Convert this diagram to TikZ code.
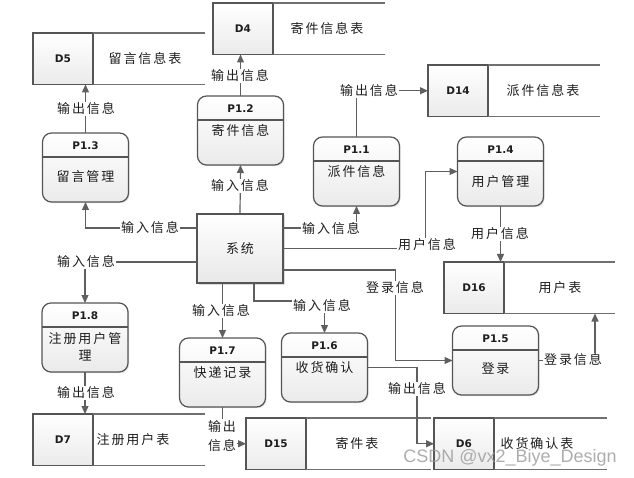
\documentclass[tikz,border=0pt]{standalone}
\usepackage{fontspec}
\usetikzlibrary{arrows.meta,shadows,calc}
\newfontfamily\cjk[LetterSpace=15]{Noto Sans CJK SC}
\newfontfamily\lat{DejaVu Sans}
\newfontfamily\wmfont{Liberation Sans}
\definecolor{ln}{HTML}{5F5F5F}
\definecolor{tx}{HTML}{1E1E1E}
\definecolor{bd}{HTML}{555555}
\definecolor{sl}{HTML}{707070}

\newcommand\pbox[6]{%
  \node[proc] (#1) at (#2,#3) {};
  \draw[pline] ([yshift=-24pt]#1.north west) -- ([yshift=-24pt]#1.north east);
  \node[ptitle] (#1t) at ([yshift=-12.5pt]#1.north) {#4};
  \node[cn] (#1b) at (#2,#5) {#6};
}
\newcommand\dstore[7]{%
  \node[storeid] (#1) at (#2,#3) {#5};
  \draw[sline] (#1.north east) -- (#4,#3);
  \draw[sline] (#1.south east) -- (#4,#3+51.5);
  \node[cn] (#1l) at (#6,#3+25.75) {#7};
}

\begin{document}
\begin{tikzpicture}[x=1pt,y=-1pt,
  flow/.style={draw=ln, line width=1.2pt, -{Triangle[length=8pt,width=7pt]}},
  plain/.style={draw=ln, line width=1.2pt},
  pline/.style={draw=bd, line width=1.1pt},
  sline/.style={draw=sl, line width=1.3pt},
  lbl/.style={fill=white, inner sep=1pt, text=tx, font=\cjk\fontsize{13}{15}\selectfont},
  cn/.style={inner sep=0pt, text=tx, font=\cjk\fontsize{13}{15}\selectfont, align=center},
  ptitle/.style={inner sep=0pt, text=tx, font=\lat\bfseries\fontsize{10.5}{12}\selectfont},
  proc/.style={draw=bd, line width=1.2pt, rounded corners=9pt, minimum width=86pt,
    minimum height=69pt, anchor=north, outer sep=0pt, top color=white, bottom color=black!8,
    drop shadow={shadow xshift=1.2pt, shadow yshift=-1.2pt, opacity=0.22}},
  storeid/.style={draw=bd, line width=1.2pt, minimum width=60pt, minimum height=51.5pt,
    anchor=north west, outer sep=0pt, inner sep=0pt, top color=white, bottom color=black!8,
    text=tx, font=\lat\bfseries\fontsize{10.5}{12}\selectfont},
  sysbox/.style={draw=bd, line width=1.2pt, minimum width=86pt, minimum height=69pt,
    outer sep=0pt, top color=white, bottom color=black!9, text=tx,
    font=\cjk\fontsize{13}{15}\selectfont,
    drop shadow={shadow xshift=1.5pt, shadow yshift=-1.5pt, opacity=0.28}}
]
\useasboundingbox[fill=white] (0,0) rectangle (634,478);

% data stores
\dstore{d5}{33}{33}{205}{D5}{145}{留言信息表}
\dstore{d4}{213}{3}{385}{D4}{327}{寄件信息表}
\dstore{d14}{428}{65}{600}{D14}{543}{派件信息表}
\dstore{d16}{444}{262}{615}{D16}{560}{用户表}
\dstore{d7}{33}{414}{205}{D7}{133}{注册用户表}
\dstore{d15}{246}{418}{431}{D15}{357}{寄件表}
\dstore{d6}{434}{418}{607}{D6}{537}{收货确认表}

% processes
\pbox{p13}{85.5}{133}{P1.3}{177}{留言管理}
\pbox{p12}{240.5}{96}{P1.2}{131}{寄件信息}
\pbox{p11}{356.5}{137}{P1.1}{172}{派件信息}
\pbox{p14}{500.5}{137}{P1.4}{182}{用户管理}
\pbox{p18}{85}{303}{P1.8}{347}{注册用户管\\[2pt]理}
\pbox{p17}{222.5}{338}{P1.7}{373}{快递记录}
\pbox{p16}{324.5}{333}{P1.6}{368}{收货确认}
\pbox{p15}{495.5}{326}{P1.5}{369}{登录}

% system
\node[sysbox] (sys) at (240,248.5) {系统};

\coordinate (d16in) at (595,313.5);

% connectors
\draw[flow] ([yshift=20.5pt]sys.west) -| (p13.south);
\draw[flow] (sys.north) -- (p12.south);
\draw[flow] (p12.north) -- (p12.north |- d4.south);
\draw[flow] (p13.north) -- (p13.north |- d5.south);
\draw[flow] ([yshift=20.5pt]sys.east) -| (p11.south);
\draw[flow] (p11.north) |- (d14.west);
\draw[flow] (sys.east) -| ([xshift=-32pt]p14.west) -- (p14.west);
\draw[flow] (p14.south) -- (p14.south |- d16.north);
\draw[flow] ([yshift=-21.5pt]sys.east) -| ([xshift=-57pt]p15.west) -- (p15.west);
\draw[flow] (p15.east) -| (d16in);
\draw[flow] ([yshift=-13.5pt]sys.west) -| (p18.north);
\draw[flow] (p18.south) -- (p18.south |- d7.north);
\draw[flow] (sys.south -| p17.north) -- (p17.north);
\draw[flow] ([xshift=14pt]sys.south) |- ([yshift=32pt]p16.north) -- (p16.north);
\draw[flow] (p17.south) |- (d15.west);
\draw[flow] (p16.east) -| ([xshift=-17pt]d6.west) -- (d6.west);

% labels
\node[lbl] (l1) at (150,228) {输入信息};
\node[lbl] (l2) at (240,186) {输入信息};
\node[lbl] (l3) at (240,76) {输出信息};
\node[lbl] (l4) at (86,109) {输出信息};
\node[lbl] (l5) at (331,229) {输入信息};
\node[lbl] (l6) at (369,91) {输出信息};
\node[lbl] (l7) at (427,245) {用户信息};
\node[lbl] (l8) at (500,234) {用户信息};
\node[lbl] (l9) at (395,288) {登录信息};
\node[lbl] (l10) at (573,360) {登录信息};
\node[lbl] (l11) at (86,262) {输入信息};
\node[lbl] (l12) at (86,393) {输出信息};
\node[lbl] (l13) at (221,311) {输入信息};
\node[lbl] (l14) at (322,306) {输入信息};
\node[lbl, align=center, font=\cjk\fontsize{13}{19}\selectfont] (l15) at (222,436) {输出\\信息};
\node[lbl] (l16) at (417,389) {输出信息};

% watermark
\node[text=black!40, opacity=0.8, font=\wmfont\fontsize{18}{20}\selectfont, inner sep=0pt] (wm) at (510,458) {CSDN @vx2\_Biye\_Design};
\end{tikzpicture}
\end{document}
